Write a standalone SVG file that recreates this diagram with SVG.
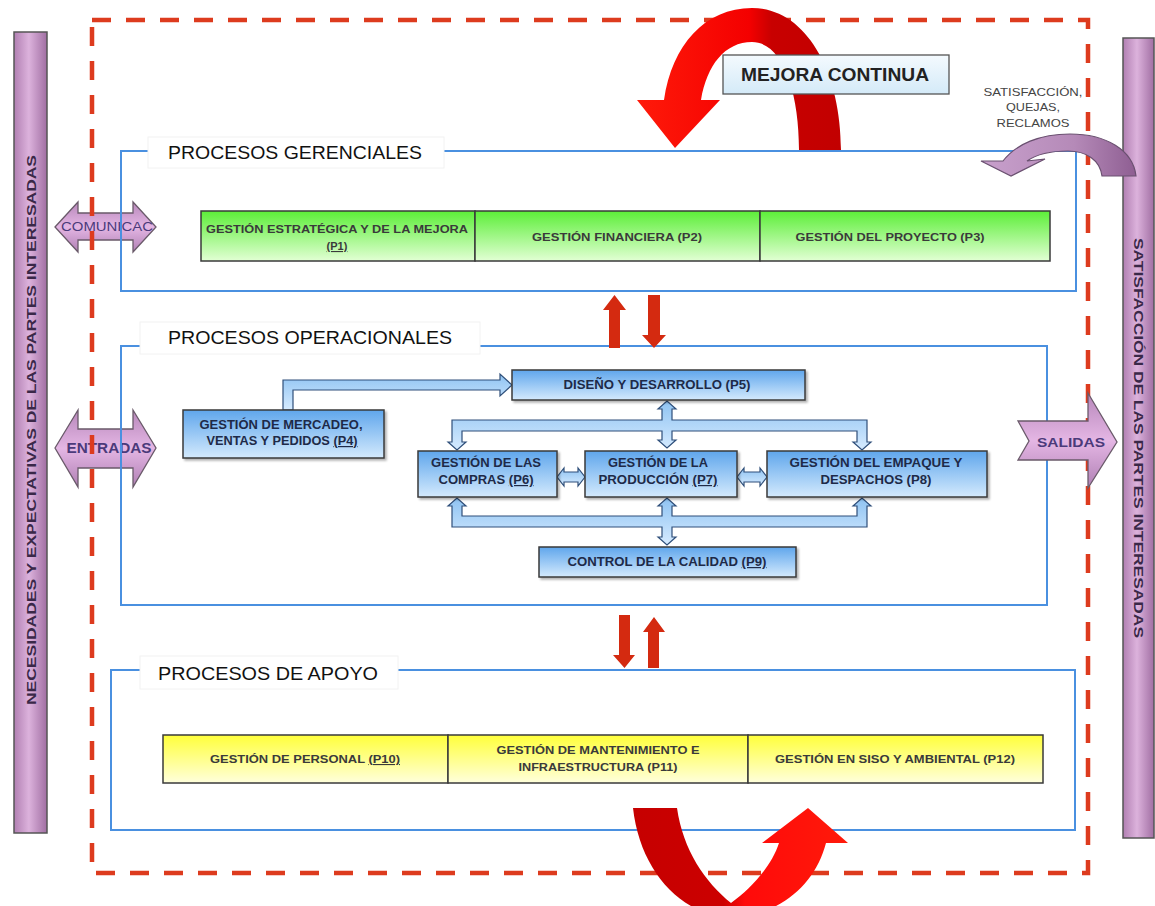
<svg xmlns="http://www.w3.org/2000/svg" width="1155" height="906" viewBox="0 0 1155 906">
<defs>
<style>
text{font-family:"Liberation Sans",Arial,sans-serif;}
.frame{fill:none;stroke:#dd3b1e;stroke-width:4.5;stroke-dasharray:19 15;}
.area{fill:none;stroke:#4a90e0;stroke-width:2;}
.lbl{fill:#fff;stroke:#f2f2f2;stroke-width:1;}
.title{font-size:19px;fill:#111;}
.green{fill:url(#gGreen);stroke:#3a3a3a;stroke-width:1.5;}
.yellow{fill:url(#gYellow);stroke:#3a3a3a;stroke-width:1.5;}
.div{stroke:#3a3a3a;stroke-width:1.5;}
.rowt{font-size:11px;font-weight:bold;fill:#3a3a3a;text-anchor:middle;}
.blue{fill:url(#gBlue);stroke:#3a3a3a;stroke-width:1.5;filter:url(#sh);}
.bt{font-size:12px;font-weight:bold;fill:#1e2a48;text-anchor:middle;}
.bus{fill:url(#gBus);stroke:#2f4f7a;stroke-width:1.2;stroke-linejoin:miter;}
.bar{stroke:#555;stroke-width:1.5;}
.bart{font-size:13px;font-weight:bold;fill:#3a2848;text-anchor:middle;}
.parrow{fill:url(#gPurp);stroke:#6a5a6a;stroke-width:1.3;}
.pt{fill:#4b3a7a;text-anchor:middle;}
.redup{fill:#d42a10;}
</style>
<linearGradient id="gGreen" x1="0" y1="0" x2="0" y2="1"><stop offset="0" stop-color="#5cee38"/><stop offset="1" stop-color="#e2ffd4"/></linearGradient>
<linearGradient id="gYellow" x1="0" y1="0" x2="0" y2="1"><stop offset="0" stop-color="#ffff3a"/><stop offset="1" stop-color="#ffffdc"/></linearGradient>
<linearGradient id="gBlue" x1="0" y1="0" x2="0" y2="1"><stop offset="0" stop-color="#5fa6ec"/><stop offset="1" stop-color="#d4eafd"/></linearGradient>
<linearGradient id="gBus" x1="0" y1="0" x2="0" y2="1"><stop offset="0" stop-color="#8fc3f2"/><stop offset="1" stop-color="#d6ebff"/></linearGradient>
<linearGradient id="gBar" x1="0" y1="0" x2="1" y2="0"><stop offset="0" stop-color="#b17fb2"/><stop offset="0.45" stop-color="#dcb2dc"/><stop offset="1" stop-color="#a16fa3"/></linearGradient>
<linearGradient id="gPurp" x1="0" y1="0" x2="0" y2="1"><stop offset="0" stop-color="#b787ba"/><stop offset="0.5" stop-color="#e4b6e4"/><stop offset="1" stop-color="#b080b4"/></linearGradient>
<linearGradient id="gPurpArc" x1="0" y1="0" x2="1" y2="0"><stop offset="0" stop-color="#c8a0cc"/><stop offset="0.6" stop-color="#b58ab8"/><stop offset="1" stop-color="#8e5e92"/></linearGradient>
<linearGradient id="gMejora" x1="0" y1="0" x2="0" y2="1"><stop offset="0" stop-color="#f4fafe"/><stop offset="1" stop-color="#d4eaf8"/></linearGradient>
<linearGradient id="gRedTop" gradientUnits="userSpaceOnUse" x1="637" y1="0" x2="841" y2="0"><stop offset="0" stop-color="#ff1a0a"/><stop offset="0.55" stop-color="#f40000"/><stop offset="0.66" stop-color="#c80000"/><stop offset="1" stop-color="#c20000"/></linearGradient>
<linearGradient id="gRedBot" gradientUnits="userSpaceOnUse" x1="633" y1="0" x2="848" y2="0"><stop offset="0" stop-color="#c60000"/><stop offset="0.42" stop-color="#cc0000"/><stop offset="0.52" stop-color="#ff0a0a"/><stop offset="1" stop-color="#ff1a0a"/></linearGradient>
<filter id="sh" x="-5%" y="-10%" width="115%" height="135%"><feDropShadow dx="2" dy="2" stdDeviation="1.2" flood-color="#000" flood-opacity="0.3"/></filter>
</defs>

<rect width="1155" height="906" fill="#fff"/>

<!-- side bars -->
<g id="bar-necesidades">
<rect class="bar" x="14" y="32" width="33" height="801" fill="url(#gBar)"/>
<text class="bart" transform="translate(31,430) rotate(-90)" y="5" textLength="550" lengthAdjust="spacingAndGlyphs">NECESIDADES Y EXPECTATIVAS DE LAS PARTES INTERESADAS</text>
</g>
<g id="bar-satisfaccion">
<rect class="bar" x="1123" y="38" width="31" height="800" fill="url(#gBar)"/>
<text class="bart" transform="translate(1139,438) rotate(90)" y="5" textLength="400" lengthAdjust="spacingAndGlyphs">SATISFACCIÓN DE LAS PARTES INTERESADAS</text>
</g>

<!-- in/out arrows drawn beneath frame lines -->
<g id="comunicac">
<polygon class="parrow" points="55,227 78,202 78,213 133,213 133,202 156,227 133,252 133,240 78,240 78,252"/>
<text class="pt" x="107" y="231" font-size="12" textLength="92" lengthAdjust="spacingAndGlyphs">COMUNICAC</text>
</g>
<g id="entradas">
<polygon class="parrow" points="55,448 78,410 78,429 133,429 133,410 156,448 133,487 133,468 78,468 78,487"/>
<text class="pt" x="109" y="453" font-size="14" font-weight="bold" textLength="85" lengthAdjust="spacingAndGlyphs">ENTRADAS</text>
</g>

<!-- outer dashed frame -->
<rect id="frame" class="frame" x="92" y="20" width="996" height="853"/>

<!-- PROCESOS GERENCIALES -->
<g id="procesos-gerenciales">
<rect class="area" x="121" y="151" width="955" height="140"/>
<rect class="lbl" x="148" y="137" width="296" height="31"/>
<text class="title" x="168" y="159" textLength="254" lengthAdjust="spacingAndGlyphs">PROCESOS GERENCIALES</text>
</g>
<g id="p1">
<rect class="green" x="201" y="211" width="274" height="50"/>
<text class="rowt" x="337" y="233" textLength="262" lengthAdjust="spacingAndGlyphs">GESTIÓN ESTRATÉGICA Y DE LA MEJORA</text>
<text class="rowt" x="337" y="250" text-decoration="underline">(P1)</text>
</g>
<g id="p2">
<rect class="green" x="475" y="211" width="285" height="50"/>
<text class="rowt" x="617" y="241" textLength="170" lengthAdjust="spacingAndGlyphs">GESTIÓN FINANCIERA (P2)</text>
</g>
<g id="p3">
<rect class="green" x="760" y="211" width="290" height="50"/>
<text class="rowt" x="890" y="241" textLength="189" lengthAdjust="spacingAndGlyphs">GESTIÓN DEL PROYECTO (P3)</text>
</g>

<!-- PROCESOS OPERACIONALES -->
<g id="procesos-operacionales">
<rect class="area" x="121" y="346" width="926" height="259"/>
<rect class="lbl" x="140" y="322" width="340" height="32"/>
<text class="title" x="168" y="344" textLength="284" lengthAdjust="spacingAndGlyphs">PROCESOS OPERACIONALES</text>
</g>

<!-- PROCESOS DE APOYO -->
<g id="procesos-apoyo">
<rect class="area" x="111" y="670" width="964" height="160"/>
<rect class="lbl" x="140" y="656" width="258" height="33"/>
<text class="title" x="158" y="680" textLength="220" lengthAdjust="spacingAndGlyphs">PROCESOS DE APOYO</text>
</g>
<g id="p10">
<rect class="yellow" x="163" y="735" width="285" height="48"/>
<text class="rowt" x="305" y="763" textLength="190" lengthAdjust="spacingAndGlyphs">GESTIÓN DE PERSONAL <tspan text-decoration="underline">(P10)</tspan></text>
</g>
<g id="p11">
<rect class="yellow" x="448" y="735" width="300" height="48"/>
<text class="rowt" x="598" y="754" textLength="203" lengthAdjust="spacingAndGlyphs">GESTIÓN DE MANTENIMIENTO E</text>
<text class="rowt" x="598" y="771" textLength="159" lengthAdjust="spacingAndGlyphs">INFRAESTRUCTURA (P11)</text>
</g>
<g id="p12">
<rect class="yellow" x="748" y="735" width="295" height="48"/>
<text class="rowt" x="895" y="763" textLength="240" lengthAdjust="spacingAndGlyphs">GESTIÓN EN SISO Y AMBIENTAL (P12)</text>
</g>

<!-- connectors -->
<g id="connectors">
<!-- P4 to P5 -->
<polygon class="bus" points="283,410 283,380 500,380 500,374 512,385 500,396 500,390 293,390 293,410"/>
<!-- upper distribution bus -->
<polygon class="bus" points="452,420 662,420 662,409 658,409 667,401 676,409 672,409 672,420 867,420 867,442 871,442 862,450 853,442 857,442 857,431 672,431 672,440 676,440 667,448 658,440 662,440 662,431 462,431 462,442 466,442 457,450 448,442 452,442"/>
<!-- lower distribution bus -->
<polygon class="bus" points="452,527 662,527 662,537 658,537 667,545 676,537 672,537 672,527 867,527 867,506 871,506 862,498 853,506 857,506 857,516 672,516 672,506 676,506 667,498 658,506 662,506 662,516 462,516 462,506 466,506 457,498 448,506 452,506"/>
<!-- P6 <-> P7 -->
<polygon class="bus" points="557,477 564,468 564,472 578,472 578,468 585,477 578,486 578,482 564,482 564,486"/>
<!-- P7 <-> P8 -->
<polygon class="bus" points="737,477 744,468 744,472 760,472 760,468 767,477 760,486 760,482 744,482 744,486"/>
<!-- red vertical arrows between areas -->
<polygon class="redup" points="609,348 609,310 603,310 614.5,295 626,310 620,310 620,348"/>
<polygon class="redup" points="648,295 660,295 660,335 666,335 654,348 642,335 648,335"/>
<polygon class="redup" points="619,615 630,615 630,655 635,655 624.5,668 613,655 619,655"/>
<polygon class="redup" points="648,668 648,632 643,632 654,617 665,632 659,632 659,668"/>
</g>

<!-- blue process boxes -->
<g id="p4">
<rect class="blue" x="183" y="410" width="201" height="48"/>
<text class="bt" x="281" y="429" textLength="163" lengthAdjust="spacingAndGlyphs">GESTIÓN DE MERCADEO,</text>
<text class="bt" x="282" y="445" textLength="151" lengthAdjust="spacingAndGlyphs">VENTAS Y PEDIDOS <tspan text-decoration="underline">(P4)</tspan></text>
</g>
<g id="p5">
<rect class="blue" x="512" y="370" width="293" height="30"/>
<text class="bt" x="657" y="389" textLength="187" lengthAdjust="spacingAndGlyphs">DISEÑO Y DESARROLLO (P5)</text>
</g>
<g id="p6">
<rect class="blue" x="418" y="451" width="139" height="46"/>
<text class="bt" x="486" y="467" textLength="110" lengthAdjust="spacingAndGlyphs">GESTIÓN DE LAS</text>
<text class="bt" x="486" y="484" textLength="95" lengthAdjust="spacingAndGlyphs">COMPRAS <tspan text-decoration="underline">(P6)</tspan></text>
</g>
<g id="p7">
<rect class="blue" x="585" y="451" width="152" height="46"/>
<text class="bt" x="658" y="467" textLength="100" lengthAdjust="spacingAndGlyphs">GESTIÓN DE LA</text>
<text class="bt" x="658" y="484" textLength="119" lengthAdjust="spacingAndGlyphs">PRODUCCIÓN <tspan text-decoration="underline">(P7)</tspan></text>
</g>
<g id="p8">
<rect class="blue" x="767" y="451" width="220" height="46"/>
<text class="bt" x="876" y="467" textLength="173" lengthAdjust="spacingAndGlyphs">GESTIÓN DEL EMPAQUE Y</text>
<text class="bt" x="876" y="484" textLength="111" lengthAdjust="spacingAndGlyphs">DESPACHOS (P8)</text>
</g>
<g id="p9">
<rect class="blue" x="539" y="547" width="257" height="30"/>
<text class="bt" x="667" y="566" textLength="199" lengthAdjust="spacingAndGlyphs">CONTROL DE LA CALIDAD <tspan text-decoration="underline">(P9)</tspan></text>
</g>

<!-- salidas -->
<g id="salidas">
<polygon class="parrow" points="1018,421 1088,421 1088,393 1117,442 1088,488 1088,460 1018,460 1029,441"/>
<text class="pt" x="1071" y="447" font-size="13" font-weight="bold" textLength="68" lengthAdjust="spacingAndGlyphs">SALIDAS</text>
</g>

<!-- satisfaccion feedback -->
<g id="satisfaccion-quejas">
<text x="1033" y="96" font-size="11" fill="#444" text-anchor="middle" textLength="99" lengthAdjust="spacingAndGlyphs">SATISFACCIÓN,</text>
<text x="1033" y="111" font-size="11" fill="#444" text-anchor="middle" textLength="54" lengthAdjust="spacingAndGlyphs">QUEJAS,</text>
<text x="1033" y="127" font-size="11" fill="#444" text-anchor="middle" textLength="73" lengthAdjust="spacingAndGlyphs">RECLAMOS</text>
<path d="M1136 176 C1133 150 1106 134 1070 134 C1040 134 1016 144 1003 161 L981 161 L1011 176 L1045 159 L1027 161 C1037 154 1051 151 1068 151 C1086 151 1100 160 1102 176 Z" fill="url(#gPurpArc)" stroke="#6a5070" stroke-width="1.2"/>
</g>

<!-- mejora continua -->
<g id="mejora-continua">
<path d="M841 150 C841 70 805 8 752 8 C705 8 672 45 664 100 L637 100 L675 148 L720 100 L701 100 C707 65 725 42 752 42 C782 42 799 90 799 150 Z" fill="url(#gRedTop)"/>
<rect x="723" y="55" width="226" height="39" fill="url(#gMejora)" stroke="#555" stroke-width="1.3"/>
<text x="835" y="81" font-size="18" font-weight="bold" fill="#222" text-anchor="middle" textLength="188" lengthAdjust="spacingAndGlyphs">MEJORA CONTINUA</text>
</g>
<g id="mejora-apoyo">
<path d="M633 808 L677 808 C683 850 705 882 731 903 C752 888 772 865 779 843 L762 843 L808 808 L848 843 L826 843 C815 885 780 915 731 918 C680 915 640 870 633 808 Z" fill="url(#gRedBot)"/>
</g>
</svg>
